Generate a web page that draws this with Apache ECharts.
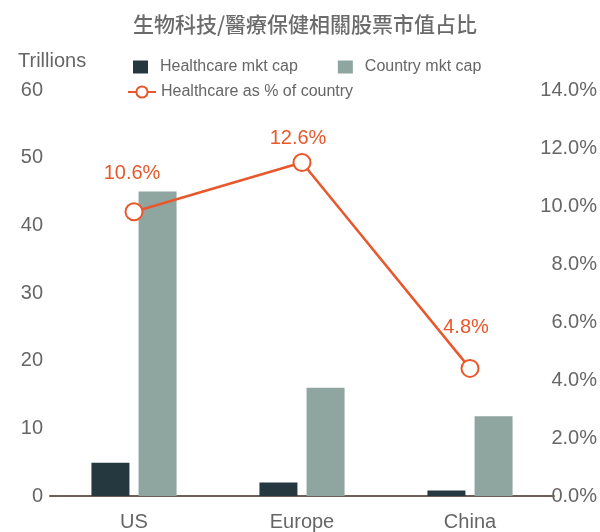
<!DOCTYPE html>
<html>
<head>
<meta charset="utf-8">
<script src="https://cdn.jsdelivr.net/npm/echarts@6/dist/echarts.min.js"></script>
<style>
  html, body { margin: 0; padding: 0; background: #fff; }
  #chart { width: 600px; height: 532px; }
</style>
</head>
<body>
<div id="chart"></div>
<script>
// 数据
const categories = ['US', 'Europe', 'China']
const healthcareCap = [4.9, 2.0, 0.8]
const countryCap = [45, 16.0, 11.8]
// 折线点位置与标注文字
const sharePct = [9.8, 11.5, 4.4]
const shareLabels = ['10.6%', '12.6%', '4.8%']
const leftTicks = { min: 0, max: 60, interval: 10 }
const rightTicks = { min: 0, max: 14, interval: 2 }

// 标注偏移（样式）
const labelOffsets = [[-2, -7], [-4, 7], [-4, -9]]

const font = "'Liberation Sans', Arial, sans-serif"
const gray = '#666'
const orange = '#e8582c'

const chart = echarts.init(document.getElementById('chart'))

const option = {
  animation: false,
  textStyle: { fontFamily: font },
  title: [
    {
      text: '生物科技/醫療保健相關股票市值占比',
      left: 300,
      top: 9,
      textAlign: 'center',
      textStyle: {
        fontFamily: "'Noto Sans CJK TC', sans-serif",
        fontSize: 21,
        fontWeight: 500,
        color: '#6b6b6b'
      }
    },
    {
      text: 'Trillions',
      left: 13,
      top: 46,
      textStyle: { fontFamily: font, fontSize: 20, fontWeight: 'normal', color: gray }
    }
  ],
  legend: [
    {
      left: 133,
      top: 59,
      padding: 0,
      itemWidth: 15,
      itemHeight: 13,
      itemGap: 40,
      icon: 'rect',
      data: ['Healthcare mkt cap', 'Country mkt cap'],
      textStyle: { fontSize: 16, color: gray, padding: [0, 0, 0, 7] }
    },
    {
      left: 127,
      top: 84,
      padding: 0,
      itemWidth: 28,
      itemHeight: 14,
      data: ['Healthcare as % of country'],
      textStyle: { fontSize: 16, color: gray, padding: [0, 0, 0, 0] }
    }
  ],
  grid: { left: 50, right: 46, top: 90, bottom: 30 },
  xAxis: {
    type: 'category',
    data: categories,
    axisLine: { lineStyle: { color: '#6b5f58', width: 2 } },
    axisTick: { show: false },
    axisLabel: { fontSize: 20, color: gray, margin: 16 }
  },
  yAxis: [
    {
      type: 'value',
      ...leftTicks,
      splitLine: { show: false },
      axisLine: { show: false },
      axisTick: { show: false },
      axisLabel: { fontSize: 20, color: gray, margin: 7 }
    },
    {
      type: 'value',
      ...rightTicks,
      position: 'right',
      splitLine: { show: false },
      axisLine: { show: false },
      axisTick: { show: false },
      axisLabel: {
        fontSize: 20,
        color: gray,
        align: 'right',
        margin: 43,
        formatter: v => v.toFixed(1) + '%'
      }
    }
  ],
  series: [
    {
      name: 'Healthcare mkt cap',
      type: 'bar',
      data: healthcareCap,
      barWidth: 38,
      barGap: '24%',
      itemStyle: { color: '#253840' }
    },
    {
      name: 'Country mkt cap',
      type: 'bar',
      data: countryCap,
      barWidth: 38,
      itemStyle: { color: '#8fa6a0' }
    },
    {
      name: 'Healthcare as % of country',
      type: 'line',
      yAxisIndex: 1,
      data: sharePct.map((v, i) => ({
        value: v,
        label: { formatter: shareLabels[i], offset: labelOffsets[i] }
      })),
      symbol: 'emptyCircle',
      symbolSize: 17,
      lineStyle: { color: orange, width: 2.5 },
      itemStyle: { color: orange, borderWidth: 2.5, borderColor: orange },
      label: {
        show: true,
        position: 'top',
        distance: 12,
        fontSize: 20,
        color: orange
      }
    }
  ]
}

chart.setOption(option)
</script>
</body>
</html>
